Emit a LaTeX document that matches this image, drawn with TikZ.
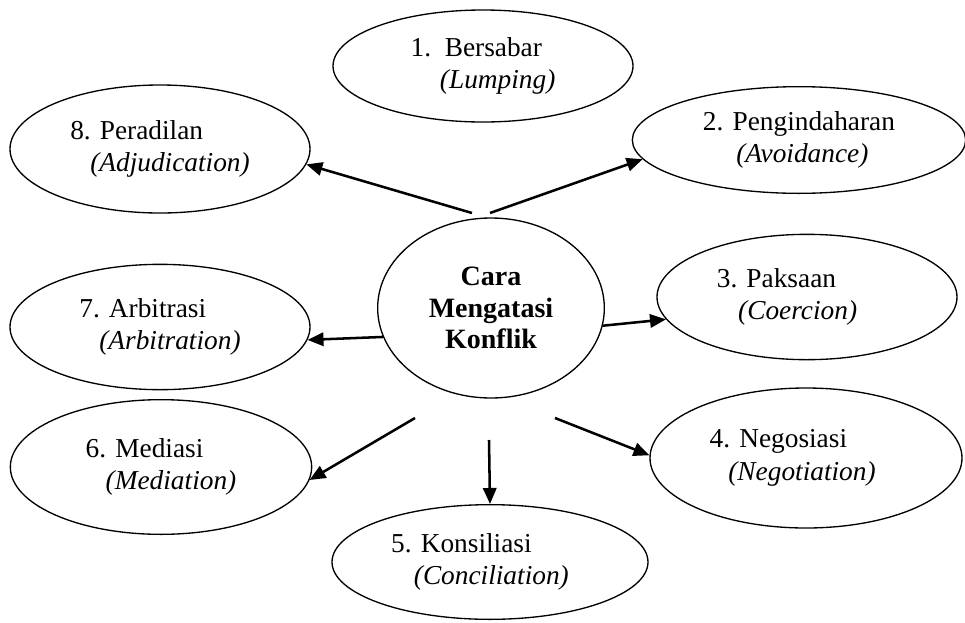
\documentclass[tikz,border=0pt]{standalone}
\usepackage{fontspec}
\setmainfont{Liberation Serif}
\usepackage{tikz}
\usetikzlibrary{shapes.geometric,arrows.meta}

\begin{document}
\begin{tikzpicture}[x=0.75pt, y=-0.75pt,
  main/.style = {draw, ellipse, line width=1pt, inner sep=0pt, align=left, font=\fontsize{20.5}{24.5}\selectfont},
  arr/.style = {-{Triangle[length=12pt,width=10pt]}, line width=1.9pt}]
\useasboundingbox (0,0) rectangle (965,622);
% outer ellipses
\node[main, minimum width=225pt, minimum height=84pt] (1) at (483,66) {1.\ \ Bersabar\\\hspace{22pt}\textit{(Lumping)}};
\node[main, minimum width=250pt, minimum height=80pt] (2) at (799,140) {2. Pengindaharan\\\hspace{25pt}\textit{(Avoidance)}};
\node[main, minimum width=225pt, minimum height=94pt] (3) at (807,297) {3. Paksaan\\\hspace{16pt}\textit{(Coercion)}\hspace{30pt}\mbox{}};
\node[main, minimum width=234pt, minimum height=105pt] (4) at (806,458) {4. Negosiasi\\\hspace{14pt}\textit{(Negotiation)}\hspace{20pt}\mbox{}};
\node[main, minimum width=237pt, minimum height=86pt] (5) at (490,562) {5. Konsiliasi\\\hspace{17pt}\textit{(Conciliation)}\hspace{15pt}\mbox{}};
\node[main, minimum width=226pt, minimum height=101pt] (6) at (161,467) {6. Mediasi\\\hspace{15pt}\textit{(Mediation)}};
\node[main, minimum width=225pt, minimum height=94pt] (7) at (160,327) {7. Arbitrasi\\\hspace{15pt}\textit{(Arbitration)}};
\node[main, minimum width=225pt, minimum height=96pt] (8) at (160,149) {8. Peradilan\\\hspace{15pt}\textit{(Adjudication)}};
% centre
\node[main, align=center, minimum width=170pt, minimum height=135pt, font=\fontsize{21}{23.5}\selectfont\bfseries] (cara) at (491,308) {Cara\\Mengatasi\\Konflik};

\coordinate (s8) at (472,213);
\coordinate (s2) at (490,213);
\coordinate (s6) at (415,418);
\coordinate (s5) at (489,440);
\coordinate (s4) at (555,418);

\draw[arr] (s8) -- (8.-6);
\draw[arr] (s2) -- (2.187);
\draw[arr] (cara.-9) -- (3.189);
\draw[arr] (cara.195) -- (7.-5);
\draw[arr] (s6) -- (6.-5);
\draw[arr] (s5) -- (5.90);
\draw[arr] (s4) -- (4.179);
\end{tikzpicture}
\end{document}
